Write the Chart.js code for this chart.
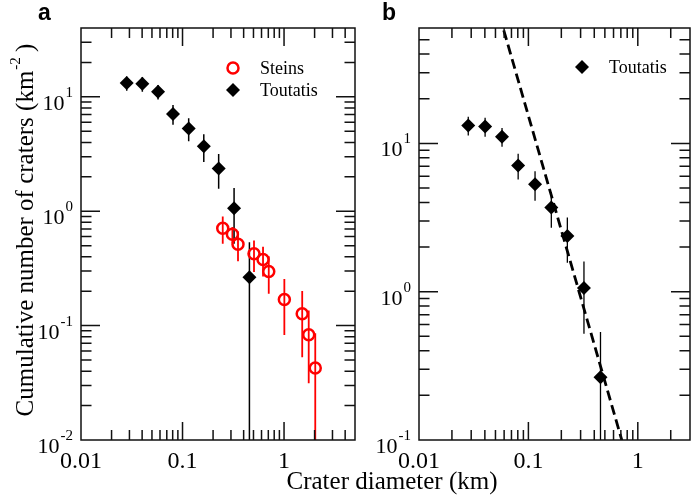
<!DOCTYPE html>
<html>
<head>
<meta charset="utf-8">
<script src="https://cdn.jsdelivr.net/npm/chart.js@4.4.1/dist/chart.umd.min.js"></script>
<style>
  html, body { margin: 0; padding: 0; background: #fff; }
  #wrap { position: relative; width: 697px; height: 499px; }
  canvas { position: absolute; left: 0; top: 0; }
</style>
</head>
<body>
<div id="wrap">
  <canvas id="panelA" width="697" height="499"></canvas>
  <canvas id="panelB" width="697" height="499"></canvas>
</div>
<script>
// crater size-frequency data (diameter in km, cumulative number per km^2)
const TOUTATIS_D = [0.0282, 0.0402, 0.0574, 0.0806, 0.115, 0.162, 0.227, 0.322, 0.456];
const TOUTATIS_N = [13.2, 13.0, 11.1, 7.1, 5.3, 3.7, 2.37, 1.06, 0.265];
const TOUTATIS_ERR = [1.9, 1.9, 1.6, 1.4, 1.2, 1.0, 0.8, 0.54, 0.27];

const STEINS_D = [0.249, 0.310, 0.352, 0.506, 0.621, 0.707, 1.007, 1.51, 1.75, 2.03];
const STEINS_N = [0.71, 0.63, 0.515, 0.425, 0.379, 0.297, 0.169, 0.127, 0.0833, 0.0426];
const STEINS_ERR = [0.19, 0.1, 0.15, 0.13, 0.11, 0.107, 0.086, 0.074, 0.052, 0.043];

// power-law fit drawn in panel b
const FIT_D = [0.05, 0.75];
const FIT_N = [90.6, 0.088];

const X_MAJOR = [0.01, 0.1, 1];
const X_LABELS = ["0.01", "0.1", "1"];
const Y_MAJOR_A = [0.01, 0.1, 1, 10];
const Y_EXP_A = ["-2", "-1", "0", "1"];
const Y_MAJOR_B = [0.1, 1, 10];
const Y_EXP_B = ["-1", "0", "1"];

const SERIF = "'Liberation Serif', 'Times New Roman', serif";
const RED = "#ff0000";
const INK = "#111";

const pts = (xs, ys) => xs.map((x, i) => ({ x, y: ys[i] }));

function logTicks(min, max) {
    const out = [];
    for (let e = Math.floor(Math.log10(min)); e <= Math.ceil(Math.log10(max)); e++) {
        for (let m = 1; m <= 9; m++) {
            const v = m * Math.pow(10, e);
            if (v > min * 1.001 && v < max * 0.999) out.push({ v, major: m === 1 });
        }
    }
    return out;
}

// text with a raised exponent; x is the right edge when align is "right"
function supText(ctx, base, sup, x, y, size, supSize, rise, align) {
    ctx.font = size + "px " + SERIF;
    const wb = ctx.measureText(base).width;
    ctx.font = supSize + "px " + SERIF;
    const ws = ctx.measureText(sup).width;
    let left = align === "right" ? x - wb - ws - 1 : x;
    ctx.textAlign = "left";
    ctx.font = size + "px " + SERIF;
    ctx.fillText(base, left, y);
    ctx.font = supSize + "px " + SERIF;
    ctx.fillText(sup, left + wb + 1, y - rise);
}

const errorBars = {
    id: "errorBars",
    beforeDatasetsDraw(chart) {
        const { ctx, chartArea: a, scales: { x, y } } = chart;
        ctx.save();
        ctx.beginPath();
        ctx.rect(a.left, a.top, a.right - a.left, a.bottom - a.top);
        ctx.clip();
        chart.data.datasets.forEach(ds => {
            if (!ds.errors) return;
            ctx.strokeStyle = ds.errColor;
            ctx.lineWidth = ds.errWidth;
            ctx.beginPath();
            ds.data.forEach((p, i) => {
                const e = ds.errors[i];
                const px = x.getPixelForValue(p.x);
                const top = y.getPixelForValue(p.y + e);
                const bot = p.y - e > 0 ? y.getPixelForValue(p.y - e) : a.bottom;
                ctx.moveTo(px, top);
                ctx.lineTo(px, bot);
            });
            ctx.stroke();
        });
        ctx.restore();
    },
};

const frame = {
    id: "frame",
    afterDraw(chart, args, o) {
        const { ctx, chartArea: a, scales: { x, y } } = chart;
        ctx.save();
        ctx.strokeStyle = INK;
        ctx.lineWidth = 1.5;
        ctx.strokeRect(a.left, a.top, a.right - a.left, a.bottom - a.top);
        ctx.beginPath();
        logTicks(x.min, x.max).forEach(t => {
            const px = x.getPixelForValue(t.v);
            const len = t.major ? 18 : 10;
            ctx.moveTo(px, a.bottom); ctx.lineTo(px, a.bottom - len);
            ctx.moveTo(px, a.top); ctx.lineTo(px, a.top + len);
        });
        logTicks(y.min, y.max).forEach(t => {
            const py = y.getPixelForValue(t.v);
            const len = t.major ? 19 : 10.5;
            ctx.moveTo(a.left, py); ctx.lineTo(a.left + len, py);
            ctx.moveTo(a.right, py); ctx.lineTo(a.right - len, py);
        });
        ctx.stroke();

        ctx.fillStyle = "#000";
        ctx.textBaseline = "alphabetic";
        // x tick labels
        ctx.textAlign = "center";
        ctx.font = "24px " + SERIF;
        X_MAJOR.forEach((v, i) => {
            ctx.fillText(X_LABELS[i], x.getPixelForValue(v), 468);
        });
        // y tick labels (powers of ten)
        o.yMajor.forEach((v, i) => {
            const py = y.getPixelForValue(v);
            supText(ctx, "10", o.yExp[i], o.yLabelRight, py + 13, 22, 15, 13, "right");
        });

        // legend
        o.legend.forEach(it => {
            if (it.style === "circle") {
                ctx.strokeStyle = RED;
                ctx.lineWidth = 2.5;
                ctx.beginPath();
                ctx.arc(it.x, it.y, 5.5, 0, Math.PI * 2);
                ctx.stroke();
            } else {
                ctx.fillStyle = "#000";
                ctx.beginPath();
                ctx.moveTo(it.x - 7, it.y); ctx.lineTo(it.x, it.y - 7);
                ctx.lineTo(it.x + 7, it.y); ctx.lineTo(it.x, it.y + 7);
                ctx.closePath();
                ctx.fill();
            }
            ctx.fillStyle = "#000";
            ctx.textAlign = "left";
            ctx.font = "18px " + SERIF;
            ctx.fillText(it.text, it.x + 27, it.y + 6);
        });

        // panel letter
        ctx.textAlign = "left";
        ctx.font = "bold 23px 'Liberation Sans', Arial, sans-serif";
        ctx.fillText(o.letter, o.letterX, 20);

        if (o.titles) {
            ctx.textAlign = "center";
            ctx.font = "25px " + SERIF;
            ctx.fillText("Crater diameter (km)", 392, 489);

            ctx.translate(33, 230);
            ctx.rotate(-Math.PI / 2);
            const main = "Cumulative number of craters (km";
            ctx.font = "25px " + SERIF;
            const w1 = ctx.measureText(main).width;
            ctx.font = "15px " + SERIF;
            const w2 = ctx.measureText("-2").width;
            ctx.font = "25px " + SERIF;
            const w3 = ctx.measureText(" )").width;
            let sx = -(w1 + w2 + w3) / 2;
            ctx.textAlign = "left";
            ctx.fillText(main, sx, 0);
            ctx.font = "15px " + SERIF;
            ctx.fillText("-2", sx + w1 + 1, -13);
            ctx.font = "25px " + SERIF;
            ctx.fillText(" )", sx + w1 + w2, 0);
        }
        ctx.restore();
    },
};

const toutatisSet = {
    label: "Toutatis",
    data: pts(TOUTATIS_D, TOUTATIS_N),
    errors: TOUTATIS_ERR, errColor: "#000", errWidth: 1.5,
    pointStyle: "rectRot", pointRadius: 7, pointHoverRadius: 7,
    backgroundColor: "#000", borderColor: "#000", borderWidth: 0,
};

function baseOptions(pad, xmax, ymin, ymax, frameOpts) {
    return {
        responsive: false, animation: false, devicePixelRatio: 1,
        layout: { padding: pad },
        plugins: { legend: { display: false }, tooltip: { enabled: false }, frame: frameOpts },
        events: [],
        scales: {
            x: { type: "logarithmic", min: 0.01, max: xmax, display: false },
            y: { type: "logarithmic", min: ymin, max: ymax, display: false },
        },
    };
}

new Chart(document.getElementById("panelA"), {
    type: "scatter",
    data: {
        datasets: [
            {
                label: "Steins",
                data: pts(STEINS_D, STEINS_N),
                errors: STEINS_ERR, errColor: RED, errWidth: 1.8,
                pointStyle: "circle", pointRadius: 5.5, pointHoverRadius: 5.5,
                backgroundColor: "rgba(0,0,0,0)", borderColor: RED, borderWidth: 2.5,
            },
            { ...toutatisSet },
        ],
    },
    options: baseOptions({ left: 81, top: 28, right: 342, bottom: 59 }, 5, 0.01, 40, {
        yMajor: Y_MAJOR_A, yExp: Y_EXP_A, yLabelRight: 73,
        legend: [
            { style: "circle", x: 233, y: 68, text: "Steins" },
            { style: "diamond", x: 233, y: 90, text: "Toutatis" },
        ],
        letter: "a", letterX: 38, titles: true,
    }),
    plugins: [errorBars, frame],
});

new Chart(document.getElementById("panelB"), {
    type: "scatter",
    data: {
        datasets: [
            { ...toutatisSet, data: pts(TOUTATIS_D, TOUTATIS_N), errWidth: 1.3 },
            {
                label: "fit",
                data: pts(FIT_D, FIT_N),
                showLine: true, pointRadius: 0, pointHoverRadius: 0,
                borderColor: "#000", borderWidth: 2.8, borderDash: [10, 5], fill: false,
            },
        ],
    },
    options: baseOptions({ left: 419, top: 28, right: 3, bottom: 59 }, 3, 0.1, 60, {
        yMajor: Y_MAJOR_B, yExp: Y_EXP_B, yLabelRight: 411,
        legend: [{ style: "diamond", x: 582, y: 67, text: "Toutatis" }],
        letter: "b", letterX: 382, titles: false,
    }),
    plugins: [errorBars, frame],
});
</script>
</body>
</html>
